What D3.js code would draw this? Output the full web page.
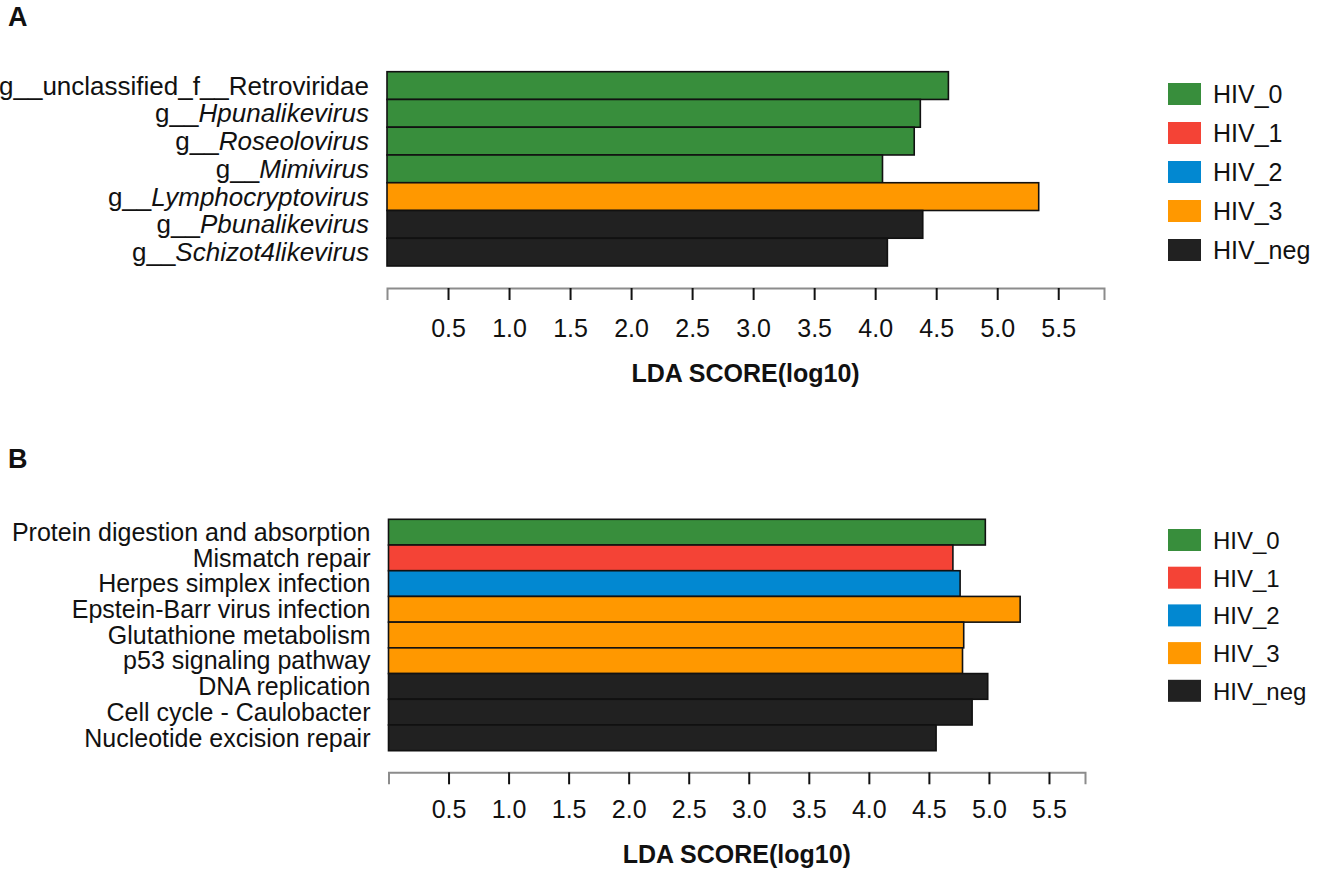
<!DOCTYPE html>
<html>
<head>
<meta charset="utf-8">
<script src="https://cdn.jsdelivr.net/npm/d3@7"></script>
<style>
  body { margin: 0; background: #fff; }
  svg text { font-family: "Liberation Sans", Arial, sans-serif; fill: #111; }
</style>
</head>
<body>
<svg id="vis-svg"></svg>
<script>
// ---- data ----
// panel A : genera
var prefixA = ["g__", "g__", "g__", "g__", "g__", "g__", "g__"];
var namesA = ["unclassified_f__Retroviridae", "Hpunalikevirus", "Roseolovirus", "Mimivirus",
              "Lymphocryptovirus", "Pbunalikevirus", "Schizot4likevirus"];
var italicA = [false, true, true, true, true, true, true];
var groupsA = ["HIV_0", "HIV_0", "HIV_0", "HIV_0", "HIV_3", "HIV_neg", "HIV_neg"];
var ldaA = [4.60, 4.37, 4.32, 4.06, 5.34, 4.39, 4.10];

// panel B : pathways
var namesB = ["Protein digestion and absorption", "Mismatch repair", "Herpes simplex infection",
              "Epstein-Barr virus infection", "Glutathione metabolism", "p53 signaling pathway",
              "DNA replication", "Cell cycle - Caulobacter", "Nucleotide excision repair"];
var groupsB = ["HIV_0", "HIV_1", "HIV_2", "HIV_3", "HIV_3", "HIV_3", "HIV_neg", "HIV_neg", "HIV_neg"];
var ldaB = [4.97, 4.70, 4.76, 5.26, 4.79, 4.78, 4.99, 4.86, 4.56];

var legendGroups = ["HIV_0", "HIV_1", "HIV_2", "HIV_3", "HIV_neg"];
var groupColors = ["#388e3c", "#f44336", "#0288d1", "#ff9800", "#212121"];
var tickValues = [0.5, 1.0, 1.5, 2.0, 2.5, 3.0, 3.5, 4.0, 4.5, 5.0, 5.5];

var color = d3.scaleOrdinal().domain(legendGroups).range(groupColors);

var svg = d3.select('#vis-svg')
  .attr('width', 1318)
  .attr('height', 876);

/**
 * Draws one LDA panel
 */
function drawPanel(p) {
  var g = svg.append('g');

  // panel letter
  g.append('text')
    .attr('x', 8)
    .attr('y', p.letterY)
    .style('font-size', '27px')
    .style('font-weight', 'bold')
    .text(p.letter);

  var xScale = d3.scaleLinear()
    .domain([0, p.xMax])
    .range([p.left, p.right]);

  var yScale = d3.scaleBand()
    .domain(d3.range(p.values.length))
    .range([p.top, p.bottom])
    .padding(0);

  // bars
  g.selectAll('rect.bar')
    .data(p.values)
    .enter()
    .append('rect')
    .attr('class', 'bar')
    .attr('x', xScale(0))
    .attr('y', function(d, i){ return yScale(i); })
    .attr('width', function(d){ return xScale(d) - xScale(0); })
    .attr('height', yScale.bandwidth())
    .attr('fill', function(d, i){ return color(p.groups[i]); })
    .attr('stroke', '#111')
    .attr('stroke-width', 1.6);

  // category labels
  var labels = g.selectAll('text.cat')
    .data(p.values)
    .enter()
    .append('text')
    .attr('class', 'cat')
    .attr('x', p.left - 18)
    .attr('y', function(d, i){ return yScale(i) + yScale.bandwidth() / 2; })
    .attr('dy', '0.35em')
    .attr('text-anchor', 'end')
    .style('font-size', p.labelSize + 'px');

  labels.each(function(d, i) {
    var t = d3.select(this);
    if (p.prefix) {
      t.append('tspan').text(p.prefix[i]);
      t.append('tspan')
        .style('font-style', p.italic[i] ? 'italic' : 'normal')
        .text(p.names[i]);
    } else {
      t.text(p.names[i]);
    }
  });

  // x axis
  var axis = g.append('g')
    .attr('transform', `translate(0,${p.axisY})`)
    .call(d3.axisBottom(xScale)
      .tickValues(tickValues)
      .tickFormat(d3.format('.1f'))
      .tickSize(12)
      .tickPadding(p.tickPad));

  axis.select('.domain')
    .attr('stroke', '#8c8c8c')
    .attr('stroke-width', 2);
  axis.selectAll('.tick line')
    .attr('stroke', '#111')
    .attr('stroke-width', 2);
  axis.selectAll('.tick text')
    .attr('fill', '#111')
    .style('font-family', '"Liberation Sans", Arial, sans-serif')
    .style('font-size', '25px');

  g.append('text')
    .attr('x', (p.left + p.right) / 2)
    .attr('y', p.titleY)
    .attr('text-anchor', 'middle')
    .style('font-size', '25px')
    .style('font-weight', 'bold')
    .text('LDA SCORE(log10)');

  // legend
  var leg = g.selectAll('g.legend')
    .data(legendGroups)
    .enter()
    .append('g')
    .attr('class', 'legend')
    .attr('transform', function(d, i){ return `translate(1168,${p.legendTop + i * p.legendStep})`; });

  leg.append('rect')
    .attr('width', 33)
    .attr('height', 22)
    .attr('fill', function(d){ return color(d); });

  leg.append('text')
    .attr('x', 45)
    .attr('y', 20)
    .style('font-size', p.legendSize + 'px')
    .text(function(d){ return d; });
}

drawPanel({
  letter: 'A', letterY: 26,
  prefix: prefixA, names: namesA, italic: italicA, groups: groupsA, values: ldaA,
  left: 387, right: 1104, xMax: 5.875,
  top: 71.7, bottom: 266,
  labelSize: 26,
  axisY: 288, tickPad: 19, titleY: 382,
  legendTop: 83, legendStep: 39, legendSize: 25
});

drawPanel({
  letter: 'B', letterY: 468,
  prefix: null, names: namesB, italic: null, groups: groupsB, values: ldaB,
  left: 388.5, right: 1085, xMax: 5.8,
  top: 519.3, bottom: 750.7,
  labelSize: 25,
  axisY: 772.3, tickPad: 16, titleY: 863,
  legendTop: 529, legendStep: 37.7, legendSize: 24
});
</script>
</body>
</html>
